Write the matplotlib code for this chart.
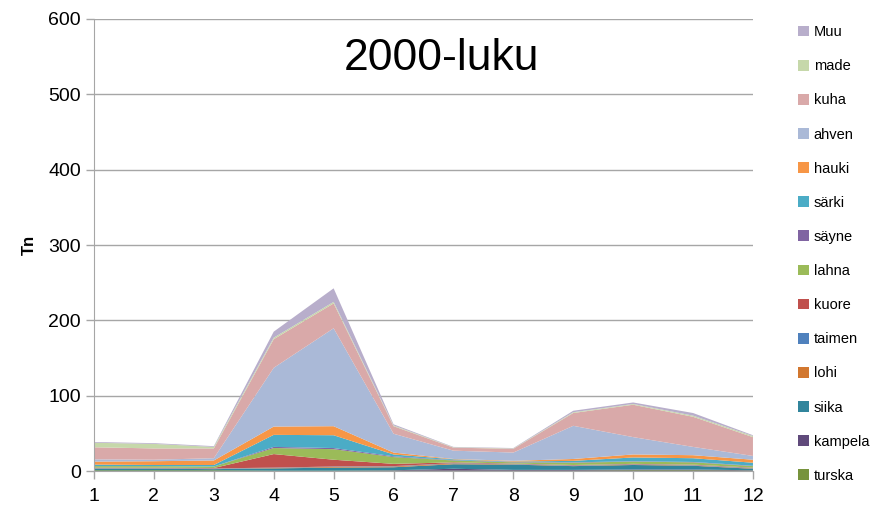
import numpy as np
import matplotlib.pyplot as plt
from matplotlib.patches import Patch

plt.rcParams['font.family'] = ['Liberation Sans', 'DejaVu Sans']

# Months and catch per species (tonnes), stacked bottom -> top
months = np.arange(1, 13)
species = ['turska', 'kampela', 'siika', 'lohi', 'taimen', 'kuore', 'lahna',
           'säyne', 'särki', 'hauki', 'ahven', 'kuha', 'made', 'Muu']

turska  = [1, 1, 1, 0.5, 0.5, 0.5, 0.5, 0.5, 0.5, 1, 1, 0.5]
kampela = [0, 0, 0, 0, 0, 0.5, 2.5, 1, 1, 1, 1, 0.5]
siika   = [2, 2, 1.5, 3, 4, 4, 6, 7, 5, 6, 5, 2]
lohi    = [0.5, 0.5, 0.5, 0.5, 1, 1, 1, 0.5, 0.5, 0.5, 0.5, 0.5]
taimen  = [0.5, 0.5, 0.5, 0.5, 0.5, 0.5, 0.5, 0.5, 0.5, 0.5, 0.5, 0.5]
kuore   = [0.5, 0.5, 0.5, 18, 9, 3, 1, 0.5, 0.5, 0.5, 0.5, 0.5]
lahna   = [2, 2, 2, 8, 14, 9, 2.5, 1.5, 3, 3, 3, 2]
sayne   = [0, 0, 0, 1.5, 1.5, 1, 0.5, 0.5, 0.5, 0.5, 0.5, 0.5]
sarki   = [2, 1.5, 2, 16, 17, 2.5, 1, 0.5, 2, 5, 5, 4]
hauki   = [4, 5, 6, 11, 12, 2.5, 0.5, 1, 2.5, 4, 4, 4]
ahven   = [3, 2, 3, 78, 130, 25, 11, 11, 44, 23, 11, 5]
kuha    = [16, 15, 13, 38, 33, 10, 4, 5, 17, 43, 40, 25]
made    = [6, 6, 2, 2, 2, 1, 0.5, 0.5, 1, 1, 1.5, 1.5]
muu     = [1, 1, 1, 8, 18, 1.5, 0.5, 0.5, 2, 2, 3.5, 1]

series = [turska, kampela, siika, lohi, taimen, kuore, lahna,
          sayne, sarki, hauki, ahven, kuha, made, muu]
colors = ['#77933C', '#604A7B', '#31859C', '#D2772F', '#4F81BD', '#C0504D',
          '#9BBB59', '#8064A2', '#4BACC6', '#F79646', '#AAB9D7', '#D9A9A9',
          '#C6D8AA', '#B8AECB']

fig = plt.figure(figsize=(8.73, 5.08), dpi=100)
ax = fig.add_axes([0.1077, 0.0728, 0.7548, 0.8898])

ax.stackplot(months, *series, colors=colors, linewidth=0, zorder=2)

ax.set_xlim(1, 12)
ax.set_ylim(0, 600)
ax.set_xticks(months)
ax.set_yticks(range(0, 601, 100))
ax.yaxis.grid(True, color='#A6A6A6', linewidth=1, zorder=0)
ax.set_axisbelow(True)

for s in ['top', 'right']:
    ax.spines[s].set_visible(False)
for s in ['left', 'bottom']:
    ax.spines[s].set_color('#A6A6A6')
    ax.spines[s].set_zorder(3)
ax.tick_params(axis='both', colors='#A6A6A6', labelcolor='black', labelsize=14,
               length=6, width=1)
ax.tick_params(axis='x', pad=6)

ax.set_ylabel('Tn', fontsize=12, fontweight='bold', labelpad=8)
ax.text(0.527, 0.912, '2000-luku', transform=ax.transAxes, ha='center', va='center',
        fontsize=32)

handles = [Patch(facecolor=c, edgecolor='none') for c in colors]
fig.legend(handles[::-1], species[::-1], loc='upper left',
           bbox_to_anchor=(0.907, 0.962), frameon=False, fontsize=10.5,
           handlelength=0.75, handleheight=0.75, handletextpad=0.35,
           labelspacing=1.38, borderaxespad=0)

plt.savefig('out.png', dpi=100)
